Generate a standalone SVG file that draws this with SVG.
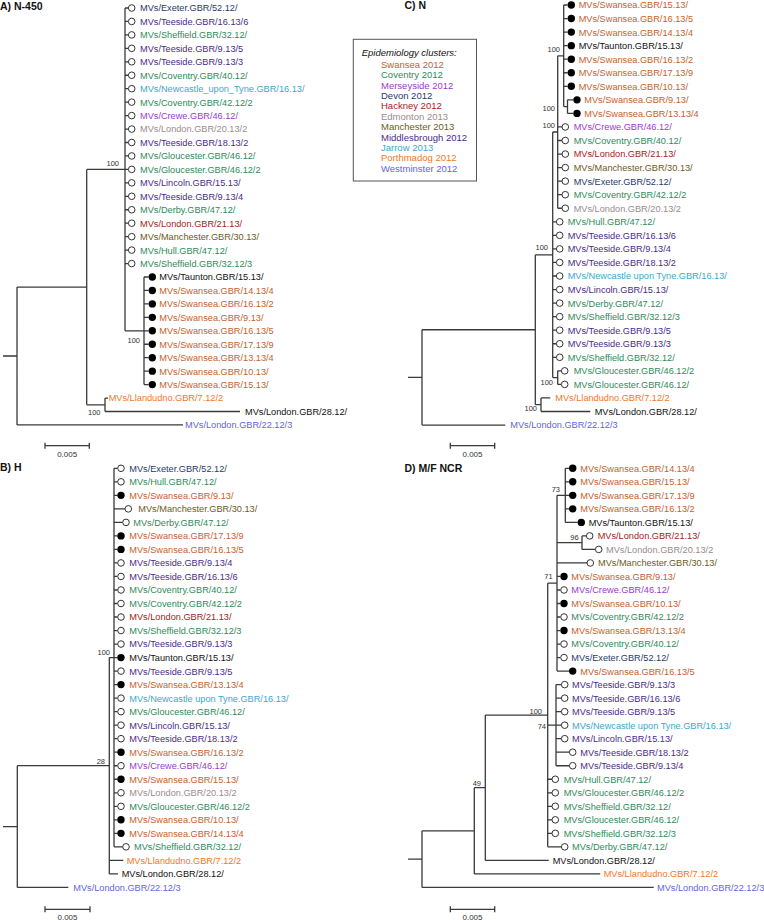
<svg xmlns="http://www.w3.org/2000/svg" width="764" height="920" viewBox="0 0 764 920">
<style>
text{font-family:"Liberation Sans",Arial,sans-serif}
.t{font-size:9.2px}
.b{font-size:7.5px;fill:#333;text-anchor:end}
.s{font-size:8px;fill:#333;text-anchor:middle}
.p{font-size:10.5px;font-weight:bold;fill:#111}
.lg{font-size:9.5px}
.o{fill:#fff;stroke:#333;stroke-width:1}
.f{fill:#000}
.ln{fill:none;stroke:#3a3a3a;stroke-width:1.3}
.sw{fill:#c4622d}.cv{fill:#2f8a5a}.ms{fill:#9b3bcc}.dv{fill:#1f3b6b}.hk{fill:#a01e22}
.ed{fill:#9a8c8c}.mn{fill:#6b5b1b}.mb{fill:#4a2c8a}.jr{fill:#3aa8cc}.pm{fill:#f0772b}
.wm{fill:#6464e0}.bk{fill:#111}
</style>
<g id="labels">
<text class="p" x="0" y="10">A) N-450</text>
<text class="p" x="404.5" y="9">C) N</text>
<text class="p" x="0" y="471">B) H</text>
<text class="p" x="404.5" y="472">D) M/F NCR</text>
</g>
<g id="legend">
<rect x="353.3" y="39.3" width="123.2" height="141.7" fill="#fff" stroke="#555" stroke-width="1"/>
<text class="lg" x="361.7" y="55.7" font-style="italic" font-size="9.7px" fill="#111">Epidemiology clusters:</text>
<text class="lg sw" x="381" y="67.7">Swansea 2012</text>
<text class="lg cv" x="381" y="78.1">Coventry 2012</text>
<text class="lg ms" x="381" y="88.5">Merseyside 2012</text>
<text class="lg dv" x="381" y="98.9">Devon 2012</text>
<text class="lg hk" x="381" y="109.3">Hackney 2012</text>
<text class="lg ed" x="381" y="119.7">Edmonton 2013</text>
<text class="lg mn" x="381" y="130.1">Manchester 2013</text>
<text class="lg mb" x="381" y="140.5">Middlesbrough 2012</text>
<text class="lg jr" x="381" y="150.9">Jarrow 2013</text>
<text class="lg pm" x="381" y="161.3">Porthmadog 2012</text>
<text class="lg wm" x="381" y="171.7">Westminster 2012</text>
</g>
<g id="connectors">
<path class="ln" d="M3,356H17M17,287.1V424.95M17,287.1H86.7M17,424.95H183M86.7,169.4V404.8M86.7,169.4H125M86.7,404.8H105M105,398.05V411.5M105,398.05H108M105,411.5H240M125,8V330.8M125,330.8H144M144,277V384.6
M125,8H128.4M125,21.45H128.4M125,34.9H128.4M125,48.35H128.4M125,61.8H128.4M125,75.25H128.4M125,88.7H128.4M125,102.15H128.4M125,115.6H128.4M125,129.05H128.4M125,142.5H128.4M125,155.95H128.4M125,169.4H128.4M125,182.85H128.4M125,196.3H128.4M125,209.75H128.4M125,223.2H128.4M125,236.65H128.4M125,250.1H128.4M125,263.55H128.4
M144,277H148.6M144,290.45H148.6M144,303.9H148.6M144,317.35H148.6M144,330.8H148.6M144,344.25H148.6M144,357.7H148.6M144,371.15H148.6M144,384.6H148.6"/>
<path class="ln" d="M45,445.7H89.3M45,442.7V448.7M89.3,442.7V448.7M450.3,445.7H494.7M450.3,442.7V448.7M494.7,442.7V448.7M45,909.3H90M45,906.3V912.3M90,906.3V912.3M450.3,909.3H494.7M450.3,906.3V912.3M494.7,906.3V912.3"/>
<path class="ln" d="M408,377.4H422M422,329.75V425.05M422,329.75H535.3M422,425.05H505.3M535.3,254.8V404.7M535.3,254.8H552.7M535.3,404.7H541M541,397.95V411.5M541,397.95H550.3M541,411.5H590.3M552.7,132V377.6M552.7,132H557.7M552.7,377.6H557.7M557.7,370.85V384.4M557.7,370.85H561.4M557.7,384.4H561.4
M552.7,221.8H556.4M552.7,235.35H556.4M552.7,248.9H556.4M552.7,262.45H556.4M552.7,276H556.4M552.7,289.55H556.4M552.7,303.1H556.4M552.7,316.65H556.4M552.7,330.2H556.4M552.7,343.75H556.4M552.7,357.3H556.4
M557.7,55.8V208.25M557.7,55.8H563.7M557.7,126.95H562M557.7,140.5H562M557.7,154.05H562M557.7,167.6H562M557.7,181.15H562M557.7,194.7H562M557.7,208.25H562
M563.7,5V106.6M563.7,106.6H567.5M563.7,5H567.6M563.7,18.55H567.6M563.7,32.1H567.6M563.7,45.65H567.6M563.7,59.2H567.6M563.7,72.75H567.6M563.7,86.3H567.6M567.5,99.85V113.4M567.5,99.85H573.3M567.5,113.4H573.3"/>
<path class="ln" d="M3,826.6H17.3M17.3,765.7V887.42M17.3,765.7H109.3M17.3,887.42H68.3M109.3,657.58V873.9M109.3,657.58H114M109.3,860.38H123.3M109.3,873.9H118M114,468.3V846.86
M114,468.3H117.5M114,481.82H117.5M114,495.34H117.5M114,508.86H125M114,522.38H122.7M114,535.9H117.5M114,549.42H117.5M114,562.94H117.5M114,576.46H117.5M114,589.98H117.5M114,603.5H117.5M114,617.02H117.5M114,630.54H117.5M114,644.06H117.5M114,657.58H117.5M114,671.1H117.5M114,684.62H117.5M114,698.14H117.5M114,711.66H117.5M114,725.18H117.5M114,738.7H117.5M114,752.22H117.5M114,765.74H117.5M114,779.26H117.5M114,792.78H117.5M114,806.3H117.5M114,819.82H117.5M114,833.34H117.5M114,846.86H122.7"/>
<path class="ln" d="M408,859.1H422M422,830.8V887.42M422,830.8H474.3M422,887.42H653.7M474.3,787.7V873.9M474.3,787.7H485.3M474.3,873.9H600.3M485.3,715.03V860.38M485.3,715.03H547.7M485.3,860.38H548.7
M547.7,583.2V846.86M547.7,583.2H557M547.7,725.18H556M547.7,779.26H552M547.7,792.78H552M547.7,806.3H552M547.7,819.82H552M547.7,833.34H552M547.7,846.86H561.4
M556,684.62V765.74M556,684.62H561.4M556,698.14H561.4M556,711.66H561.4M556,725.18H561.4M556,738.7H561.4M556,752.22H569M556,765.74H569
M557,495.34V671.1M557,495.34H565.3M557,542.66H582M557,562.94H587M557,576.46H560.3M557,589.98H560.3M557,603.5H560.3M557,617.02H560.3M557,630.54H560.3M557,644.06H560.3M557,657.58H560.3M557,671.1H569
M565.3,468.3V522.38M565.3,468.3H569M565.3,481.82H569M565.3,495.34H569M565.3,508.86H569M565.3,522.38H577.6
M582,535.9V549.42M582,535.9H586.4M582,549.42H595.4"/>
</g>
<g id="support">
<text class="b" x="119" y="166">100</text><text class="b" x="140" y="342.7">100</text><text class="b" x="100.5" y="414.5">100</text>
<text class="b" x="560" y="51.7">100</text><text class="b" x="555" y="110.7">100</text><text class="b" x="555" y="128.4">100</text><text class="b" x="548" y="249.7">100</text><text class="b" x="553" y="385">100</text><text class="b" x="537" y="411">100</text>
<text class="b" x="110" y="655">100</text><text class="b" x="105" y="763.7">28</text>
<text class="b" x="560" y="492">73</text><text class="b" x="578.7" y="540">96</text><text class="b" x="552.7" y="579.4">71</text><text class="b" x="542" y="713.7">100</text><text class="b" x="546" y="729.4">74</text><text class="b" x="481" y="786">49</text>
<text class="s" x="67.2" y="457">0.005</text><text class="s" x="472.5" y="457">0.005</text><text class="s" x="67.5" y="919.5">0.005</text><text class="s" x="472.5" y="919.5">0.005</text>
</g>
<g id="treeA">
<g id="A0"><circle class="o" cx="131.7" cy="8" r="3.3"/><text class="t dv" x="140" y="11.4">MVs/Exeter.GBR/52.12/</text></g>
<g id="A1"><circle class="o" cx="131.7" cy="21.45" r="3.3"/><text class="t mb" x="140" y="24.85">MVs/Teeside.GBR/16.13/6</text></g>
<g id="A2"><circle class="o" cx="131.7" cy="34.9" r="3.3"/><text class="t cv" x="140" y="38.3">MVs/Sheffield.GBR/32.12/</text></g>
<g id="A3"><circle class="o" cx="131.7" cy="48.35" r="3.3"/><text class="t mb" x="140" y="51.75">MVs/Teeside.GBR/9.13/5</text></g>
<g id="A4"><circle class="o" cx="131.7" cy="61.8" r="3.3"/><text class="t mb" x="140" y="65.2">MVs/Teeside.GBR/9.13/3</text></g>
<g id="A5"><circle class="o" cx="131.7" cy="75.25" r="3.3"/><text class="t cv" x="140" y="78.65">MVs/Coventry.GBR/40.12/</text></g>
<g id="A6"><circle class="o" cx="131.7" cy="88.7" r="3.3"/><text class="t jr" x="140" y="92.1">MVs/Newcastle_upon_Tyne.GBR/16.13/</text></g>
<g id="A7"><circle class="o" cx="131.7" cy="102.15" r="3.3"/><text class="t cv" x="140" y="105.55">MVs/Coventry.GBR/42.12/2</text></g>
<g id="A8"><circle class="o" cx="131.7" cy="115.6" r="3.3"/><text class="t ms" x="140" y="119">MVs/Crewe.GBR/46.12/</text></g>
<g id="A9"><circle class="o" cx="131.7" cy="129.05" r="3.3"/><text class="t ed" x="140" y="132.45">MVs/London.GBR/20.13/2</text></g>
<g id="A10"><circle class="o" cx="131.7" cy="142.5" r="3.3"/><text class="t mb" x="140" y="145.9">MVs/Teeside.GBR/18.13/2</text></g>
<g id="A11"><circle class="o" cx="131.7" cy="155.95" r="3.3"/><text class="t cv" x="140" y="159.35">MVs/Gloucester.GBR/46.12/</text></g>
<g id="A12"><circle class="o" cx="131.7" cy="169.4" r="3.3"/><text class="t cv" x="140" y="172.8">MVs/Gloucester.GBR/46.12/2</text></g>
<g id="A13"><circle class="o" cx="131.7" cy="182.85" r="3.3"/><text class="t mb" x="140" y="186.25">MVs/Lincoln.GBR/15.13/</text></g>
<g id="A14"><circle class="o" cx="131.7" cy="196.3" r="3.3"/><text class="t mb" x="140" y="199.7">MVs/Teeside.GBR/9.13/4</text></g>
<g id="A15"><circle class="o" cx="131.7" cy="209.75" r="3.3"/><text class="t cv" x="140" y="213.15">MVs/Derby.GBR/47.12/</text></g>
<g id="A16"><circle class="o" cx="131.7" cy="223.2" r="3.3"/><text class="t hk" x="140" y="226.6">MVs/London.GBR/21.13/</text></g>
<g id="A17"><circle class="o" cx="131.7" cy="236.65" r="3.3"/><text class="t mn" x="140" y="240.05">MVs/Manchester.GBR/30.13/</text></g>
<g id="A18"><circle class="o" cx="131.7" cy="250.1" r="3.3"/><text class="t cv" x="140" y="253.5">MVs/Hull.GBR/47.12/</text></g>
<g id="A19"><circle class="o" cx="131.7" cy="263.55" r="3.3"/><text class="t cv" x="140" y="266.95">MVs/Sheffield.GBR/32.12/3</text></g>
<g id="A20"><circle class="f" cx="152.3" cy="277" r="3.7"/><text class="t bk" x="159.3" y="280.4">MVs/Taunton.GBR/15.13/</text></g>
<g id="A21"><circle class="f" cx="152.3" cy="290.45" r="3.7"/><text class="t sw" x="159.3" y="293.85">MVs/Swansea.GBR/14.13/4</text></g>
<g id="A22"><circle class="f" cx="152.3" cy="303.9" r="3.7"/><text class="t sw" x="159.3" y="307.3">MVs/Swansea.GBR/16.13/2</text></g>
<g id="A23"><circle class="f" cx="152.3" cy="317.35" r="3.7"/><text class="t sw" x="159.3" y="320.75">MVs/Swansea.GBR/9.13/</text></g>
<g id="A24"><circle class="f" cx="152.3" cy="330.8" r="3.7"/><text class="t sw" x="159.3" y="334.2">MVs/Swansea.GBR/16.13/5</text></g>
<g id="A25"><circle class="f" cx="152.3" cy="344.25" r="3.7"/><text class="t sw" x="159.3" y="347.65">MVs/Swansea.GBR/17.13/9</text></g>
<g id="A26"><circle class="f" cx="152.3" cy="357.7" r="3.7"/><text class="t sw" x="159.3" y="361.1">MVs/Swansea.GBR/13.13/4</text></g>
<g id="A27"><circle class="f" cx="152.3" cy="371.15" r="3.7"/><text class="t sw" x="159.3" y="374.55">MVs/Swansea.GBR/10.13/</text></g>
<g id="A28"><circle class="f" cx="152.3" cy="384.6" r="3.7"/><text class="t sw" x="159.3" y="388">MVs/Swansea.GBR/15.13/</text></g>
<g id="A29"><text class="t pm" x="108.7" y="401.45">MVs/Llandudno.GBR/7.12/2</text></g>
<g id="A30"><text class="t bk" x="245" y="414.9">MVs/London.GBR/28.12/</text></g>
<g id="A31"><text class="t wm" x="185" y="428.35">MVs/London.GBR/22.12/3</text></g>
</g>
<g id="treeC">
<g id="C0"><circle class="f" cx="571.3" cy="5" r="3.7"/><text class="t sw" x="578.7" y="8.4">MVs/Swansea.GBR/15.13/</text></g>
<g id="C1"><circle class="f" cx="571.3" cy="18.55" r="3.7"/><text class="t sw" x="578.7" y="21.95">MVs/Swansea.GBR/16.13/5</text></g>
<g id="C2"><circle class="f" cx="571.3" cy="32.1" r="3.7"/><text class="t sw" x="578.7" y="35.5">MVs/Swansea.GBR/14.13/4</text></g>
<g id="C3"><circle class="f" cx="571.3" cy="45.65" r="3.7"/><text class="t bk" x="578.7" y="49.05">MVs/Taunton.GBR/15.13/</text></g>
<g id="C4"><circle class="f" cx="571.3" cy="59.2" r="3.7"/><text class="t sw" x="578.7" y="62.6">MVs/Swansea.GBR/16.13/2</text></g>
<g id="C5"><circle class="f" cx="571.3" cy="72.75" r="3.7"/><text class="t sw" x="578.7" y="76.15">MVs/Swansea.GBR/17.13/9</text></g>
<g id="C6"><circle class="f" cx="571.3" cy="86.3" r="3.7"/><text class="t sw" x="578.7" y="89.7">MVs/Swansea.GBR/10.13/</text></g>
<g id="C7"><circle class="f" cx="577" cy="99.85" r="3.7"/><text class="t sw" x="584.3" y="103.25">MVs/Swansea.GBR/9.13/</text></g>
<g id="C8"><circle class="f" cx="577" cy="113.4" r="3.7"/><text class="t sw" x="584.3" y="116.8">MVs/Swansea.GBR/13.13/4</text></g>
<g id="C9"><circle class="o" cx="565.3" cy="126.95" r="3.3"/><text class="t ms" x="573.7" y="130.35">MVs/Crewe.GBR/46.12/</text></g>
<g id="C10"><circle class="o" cx="565.3" cy="140.5" r="3.3"/><text class="t cv" x="573.7" y="143.9">MVs/Coventry.GBR/40.12/</text></g>
<g id="C11"><circle class="o" cx="565.3" cy="154.05" r="3.3"/><text class="t hk" x="573.7" y="157.45">MVs/London.GBR/21.13/</text></g>
<g id="C12"><circle class="o" cx="565.3" cy="167.6" r="3.3"/><text class="t mn" x="573.7" y="171">MVs/Manchester.GBR/30.13/</text></g>
<g id="C13"><circle class="o" cx="565.3" cy="181.15" r="3.3"/><text class="t dv" x="573.7" y="184.55">MVs/Exeter.GBR/52.12/</text></g>
<g id="C14"><circle class="o" cx="565.3" cy="194.7" r="3.3"/><text class="t cv" x="573.7" y="198.1">MVs/Coventry.GBR/42.12/2</text></g>
<g id="C15"><circle class="o" cx="565.3" cy="208.25" r="3.3"/><text class="t ed" x="573.7" y="211.65">MVs/London.GBR/20.13/2</text></g>
<g id="C16"><circle class="o" cx="559.7" cy="221.8" r="3.3"/><text class="t cv" x="567.7" y="225.2">MVs/Hull.GBR/47.12/</text></g>
<g id="C17"><circle class="o" cx="559.7" cy="235.35" r="3.3"/><text class="t mb" x="567.7" y="238.75">MVs/Teeside.GBR/16.13/6</text></g>
<g id="C18"><circle class="o" cx="559.7" cy="248.9" r="3.3"/><text class="t mb" x="567.7" y="252.3">MVs/Teeside.GBR/9.13/4</text></g>
<g id="C19"><circle class="o" cx="559.7" cy="262.45" r="3.3"/><text class="t mb" x="567.7" y="265.85">MVs/Teeside.GBR/18.13/2</text></g>
<g id="C20"><circle class="o" cx="559.7" cy="276" r="3.3"/><text class="t jr" x="567.7" y="279.4">MVs/Newcastle upon Tyne.GBR/16.13/</text></g>
<g id="C21"><circle class="o" cx="559.7" cy="289.55" r="3.3"/><text class="t mb" x="567.7" y="292.95">MVs/Lincoln.GBR/15.13/</text></g>
<g id="C22"><circle class="o" cx="559.7" cy="303.1" r="3.3"/><text class="t cv" x="567.7" y="306.5">MVs/Derby.GBR/47.12/</text></g>
<g id="C23"><circle class="o" cx="559.7" cy="316.65" r="3.3"/><text class="t cv" x="567.7" y="320.05">MVs/Sheffield.GBR/32.12/3</text></g>
<g id="C24"><circle class="o" cx="559.7" cy="330.2" r="3.3"/><text class="t mb" x="567.7" y="333.6">MVs/Teeside.GBR/9.13/5</text></g>
<g id="C25"><circle class="o" cx="559.7" cy="343.75" r="3.3"/><text class="t mb" x="567.7" y="347.15">MVs/Teeside.GBR/9.13/3</text></g>
<g id="C26"><circle class="o" cx="559.7" cy="357.3" r="3.3"/><text class="t cv" x="567.7" y="360.7">MVs/Sheffield.GBR/32.12/</text></g>
<g id="C27"><circle class="o" cx="564.7" cy="370.85" r="3.3"/><text class="t cv" x="573.7" y="374.25">MVs/Gloucester.GBR/46.12/2</text></g>
<g id="C28"><circle class="o" cx="564.7" cy="384.4" r="3.3"/><text class="t cv" x="573.7" y="387.8">MVs/Gloucester.GBR/46.12/</text></g>
<g id="C29"><text class="t pm" x="555.3" y="401.35">MVs/Llandudno.GBR/7.12/2</text></g>
<g id="C30"><text class="t bk" x="594.7" y="414.9">MVs/London.GBR/28.12/</text></g>
<g id="C31"><text class="t wm" x="510.3" y="428.45">MVs/London.GBR/22.12/3</text></g>
</g>
<g id="treeB">
<g id="B0"><circle class="o" cx="121" cy="468.3" r="3.3"/><text class="t dv" x="129.3" y="471.7">MVs/Exeter.GBR/52.12/</text></g>
<g id="B1"><circle class="o" cx="121" cy="481.82" r="3.3"/><text class="t cv" x="129.3" y="485.22">MVs/Hull.GBR/47.12/</text></g>
<g id="B2"><circle class="f" cx="121" cy="495.34" r="3.7"/><text class="t sw" x="129.3" y="498.74">MVs/Swansea.GBR/9.13/</text></g>
<g id="B3"><circle class="o" cx="128.3" cy="508.86" r="3.3"/><text class="t mn" x="138.3" y="512.26">MVs/Manchester.GBR/30.13/</text></g>
<g id="B4"><circle class="o" cx="126" cy="522.38" r="3.3"/><text class="t cv" x="133.3" y="525.78">MVs/Derby.GBR/47.12/</text></g>
<g id="B5"><circle class="f" cx="121" cy="535.9" r="3.7"/><text class="t sw" x="129.3" y="539.3">MVs/Swansea.GBR/17.13/9</text></g>
<g id="B6"><circle class="f" cx="121" cy="549.42" r="3.7"/><text class="t sw" x="129.3" y="552.82">MVs/Swansea.GBR/16.13/5</text></g>
<g id="B7"><circle class="o" cx="121" cy="562.94" r="3.3"/><text class="t mb" x="129.3" y="566.34">MVs/Teeside.GBR/9.13/4</text></g>
<g id="B8"><circle class="o" cx="121" cy="576.46" r="3.3"/><text class="t mb" x="129.3" y="579.86">MVs/Teeside.GBR/16.13/6</text></g>
<g id="B9"><circle class="o" cx="121" cy="589.98" r="3.3"/><text class="t cv" x="129.3" y="593.38">MVs/Coventry.GBR/40.12/</text></g>
<g id="B10"><circle class="o" cx="121" cy="603.5" r="3.3"/><text class="t cv" x="129.3" y="606.9">MVs/Coventry.GBR/42.12/2</text></g>
<g id="B11"><circle class="o" cx="121" cy="617.02" r="3.3"/><text class="t hk" x="129.3" y="620.42">MVs/London.GBR/21.13/</text></g>
<g id="B12"><circle class="o" cx="121" cy="630.54" r="3.3"/><text class="t cv" x="129.3" y="633.94">MVs/Sheffield.GBR/32.12/3</text></g>
<g id="B13"><circle class="o" cx="121" cy="644.06" r="3.3"/><text class="t mb" x="129.3" y="647.46">MVs/Teeside.GBR/9.13/3</text></g>
<g id="B14"><circle class="f" cx="121" cy="657.58" r="3.7"/><text class="t bk" x="129.3" y="660.98">MVs/Taunton.GBR/15.13/</text></g>
<g id="B15"><circle class="o" cx="121" cy="671.1" r="3.3"/><text class="t mb" x="129.3" y="674.5">MVs/Teeside.GBR/9.13/5</text></g>
<g id="B16"><circle class="f" cx="121" cy="684.62" r="3.7"/><text class="t sw" x="129.3" y="688.02">MVs/Swansea.GBR/13.13/4</text></g>
<g id="B17"><circle class="o" cx="121" cy="698.14" r="3.3"/><text class="t jr" x="129.3" y="701.54">MVs/Newcastle upon Tyne.GBR/16.13/</text></g>
<g id="B18"><circle class="o" cx="121" cy="711.66" r="3.3"/><text class="t cv" x="129.3" y="715.06">MVs/Gloucester.GBR/46.12/</text></g>
<g id="B19"><circle class="o" cx="121" cy="725.18" r="3.3"/><text class="t mb" x="129.3" y="728.58">MVs/Lincoln.GBR/15.13/</text></g>
<g id="B20"><circle class="o" cx="121" cy="738.7" r="3.3"/><text class="t mb" x="129.3" y="742.1">MVs/Teeside.GBR/18.13/2</text></g>
<g id="B21"><circle class="f" cx="121" cy="752.22" r="3.7"/><text class="t sw" x="129.3" y="755.62">MVs/Swansea.GBR/16.13/2</text></g>
<g id="B22"><circle class="o" cx="121" cy="765.74" r="3.3"/><text class="t ms" x="129.3" y="769.14">MVs/Crewe.GBR/46.12/</text></g>
<g id="B23"><circle class="f" cx="121" cy="779.26" r="3.7"/><text class="t sw" x="129.3" y="782.66">MVs/Swansea.GBR/15.13/</text></g>
<g id="B24"><circle class="o" cx="121" cy="792.78" r="3.3"/><text class="t ed" x="129.3" y="796.18">MVs/London.GBR/20.13/2</text></g>
<g id="B25"><circle class="o" cx="121" cy="806.3" r="3.3"/><text class="t cv" x="129.3" y="809.7">MVs/Gloucester.GBR/46.12/2</text></g>
<g id="B26"><circle class="f" cx="121" cy="819.82" r="3.7"/><text class="t sw" x="129.3" y="823.22">MVs/Swansea.GBR/10.13/</text></g>
<g id="B27"><circle class="f" cx="121" cy="833.34" r="3.7"/><text class="t sw" x="129.3" y="836.74">MVs/Swansea.GBR/14.13/4</text></g>
<g id="B28"><circle class="o" cx="126" cy="846.86" r="3.3"/><text class="t cv" x="134" y="850.26">MVs/Sheffield.GBR/32.12/</text></g>
<g id="B29"><text class="t pm" x="126.7" y="863.78">MVs/Llandudno.GBR/7.12/2</text></g>
<g id="B30"><text class="t bk" x="121.7" y="877.3">MVs/London.GBR/28.12/</text></g>
<g id="B31"><text class="t wm" x="73.3" y="890.82">MVs/London.GBR/22.12/3</text></g>
</g>
<g id="treeD">
<g id="D0"><circle class="f" cx="572.7" cy="468.3" r="3.7"/><text class="t sw" x="580.3" y="471.7">MVs/Swansea.GBR/14.13/4</text></g>
<g id="D1"><circle class="f" cx="572.7" cy="481.82" r="3.7"/><text class="t sw" x="580.3" y="485.22">MVs/Swansea.GBR/15.13/</text></g>
<g id="D2"><circle class="f" cx="572.7" cy="495.34" r="3.7"/><text class="t sw" x="580.3" y="498.74">MVs/Swansea.GBR/17.13/9</text></g>
<g id="D3"><circle class="f" cx="572.7" cy="508.86" r="3.7"/><text class="t sw" x="580.3" y="512.26">MVs/Swansea.GBR/16.13/2</text></g>
<g id="D4"><circle class="f" cx="581.3" cy="522.38" r="3.7"/><text class="t bk" x="588.7" y="525.78">MVs/Taunton.GBR/15.13/</text></g>
<g id="D5"><circle class="o" cx="589.7" cy="535.9" r="3.3"/><text class="t hk" x="597.7" y="539.3">MVs/London.GBR/21.13/</text></g>
<g id="D6"><circle class="o" cx="598.7" cy="549.42" r="3.3"/><text class="t ed" x="606" y="552.82">MVs/London.GBR/20.13/2</text></g>
<g id="D7"><circle class="o" cx="590.3" cy="562.94" r="3.3"/><text class="t mn" x="598" y="566.34">MVs/Manchester.GBR/30.13/</text></g>
<g id="D8"><circle class="f" cx="564" cy="576.46" r="3.7"/><text class="t sw" x="571.3" y="579.86">MVs/Swansea.GBR/9.13/</text></g>
<g id="D9"><circle class="o" cx="564" cy="589.98" r="3.3"/><text class="t ms" x="571.3" y="593.38">MVs/Crewe.GBR/46.12/</text></g>
<g id="D10"><circle class="f" cx="564" cy="603.5" r="3.7"/><text class="t sw" x="571.3" y="606.9">MVs/Swansea.GBR/10.13/</text></g>
<g id="D11"><circle class="o" cx="564" cy="617.02" r="3.3"/><text class="t cv" x="571.3" y="620.42">MVs/Coventry.GBR/42.12/2</text></g>
<g id="D12"><circle class="f" cx="564" cy="630.54" r="3.7"/><text class="t sw" x="571.3" y="633.94">MVs/Swansea.GBR/13.13/4</text></g>
<g id="D13"><circle class="o" cx="564" cy="644.06" r="3.3"/><text class="t cv" x="571.3" y="647.46">MVs/Coventry.GBR/40.12/</text></g>
<g id="D14"><circle class="o" cx="564" cy="657.58" r="3.3"/><text class="t dv" x="571.3" y="660.98">MVs/Exeter.GBR/52.12/</text></g>
<g id="D15"><circle class="f" cx="572.7" cy="671.1" r="3.7"/><text class="t sw" x="580.3" y="674.5">MVs/Swansea.GBR/16.13/5</text></g>
<g id="D16"><circle class="o" cx="564.7" cy="684.62" r="3.3"/><text class="t mb" x="572" y="688.02">MVs/Teeside.GBR/9.13/3</text></g>
<g id="D17"><circle class="o" cx="564.7" cy="698.14" r="3.3"/><text class="t mb" x="572" y="701.54">MVs/Teeside.GBR/16.13/6</text></g>
<g id="D18"><circle class="o" cx="564.7" cy="711.66" r="3.3"/><text class="t mb" x="572" y="715.06">MVs/Teeside.GBR/9.13/5</text></g>
<g id="D19"><circle class="o" cx="564.7" cy="725.18" r="3.3"/><text class="t jr" x="572" y="728.58">MVs/Newcastle upon Tyne.GBR/16.13/</text></g>
<g id="D20"><circle class="o" cx="564.7" cy="738.7" r="3.3"/><text class="t mb" x="572" y="742.1">MVs/Lincoln.GBR/15.13/</text></g>
<g id="D21"><circle class="o" cx="572.7" cy="752.22" r="3.3"/><text class="t mb" x="580.3" y="755.62">MVs/Teeside.GBR/18.13/2</text></g>
<g id="D22"><circle class="o" cx="572.7" cy="765.74" r="3.3"/><text class="t mb" x="580.3" y="769.14">MVs/Teeside.GBR/9.13/4</text></g>
<g id="D23"><circle class="o" cx="555.3" cy="779.26" r="3.3"/><text class="t cv" x="563.7" y="782.66">MVs/Hull.GBR/47.12/</text></g>
<g id="D24"><circle class="o" cx="555.3" cy="792.78" r="3.3"/><text class="t cv" x="563.7" y="796.18">MVs/Gloucester.GBR/46.12/2</text></g>
<g id="D25"><circle class="o" cx="555.3" cy="806.3" r="3.3"/><text class="t cv" x="563.7" y="809.7">MVs/Sheffield.GBR/32.12/</text></g>
<g id="D26"><circle class="o" cx="555.3" cy="819.82" r="3.3"/><text class="t cv" x="563.7" y="823.22">MVs/Gloucester.GBR/46.12/</text></g>
<g id="D27"><circle class="o" cx="555.3" cy="833.34" r="3.3"/><text class="t cv" x="563.7" y="836.74">MVs/Sheffield.GBR/32.12/3</text></g>
<g id="D28"><circle class="o" cx="564.7" cy="846.86" r="3.3"/><text class="t cv" x="572" y="850.26">MVs/Derby.GBR/47.12/</text></g>
<g id="D29"><text class="t bk" x="552.7" y="863.78">MVs/London.GBR/28.12/</text></g>
<g id="D30"><text class="t pm" x="603.7" y="877.3">MVs/Llandudno.GBR/7.12/2</text></g>
<g id="D31"><text class="t wm" x="657" y="890.82">MVs/London.GBR/22.12/3</text></g>
</g>
</svg>
